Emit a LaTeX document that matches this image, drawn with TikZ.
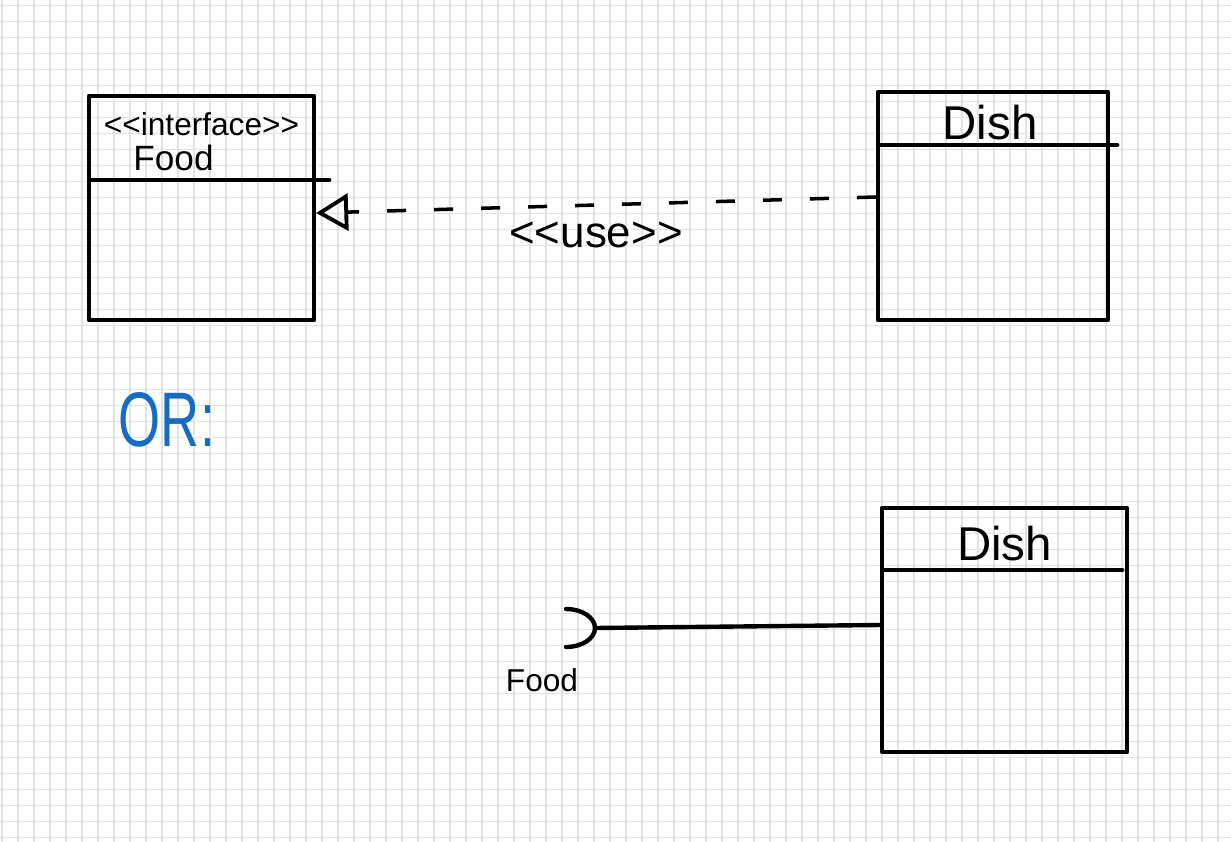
\documentclass[tikz,border=0pt]{standalone}
\usepackage{fontspec}
\setmainfont{Liberation Sans}
\usetikzlibrary{arrows.meta,positioning}
\definecolor{gridgray}{RGB}{226,226,226}
\definecolor{orblue}{RGB}{22,108,196}

\begin{document}
\begin{tikzpicture}[
  x=0.02cm, y=-0.02cm,
  every node/.style={inner sep=0pt},
  umlbox/.style={draw, line width=2.5pt, line join=round},
  rule/.style={line width=2.5pt, line cap=round},
  gridline/.style={gridgray, line width=1pt},
  hand/.style={font=\fontsize{#1}{#1}\selectfont}
]
\useasboundingbox (0,0) rectangle (1231,842);
\fill[white] (0,0) rectangle (1231,842);

% squared paper
\foreach \gx in {0,...,76}
  \draw[gridline] ({1.7+16*\gx},0) -- ({1.7+16*\gx},842);
\foreach \gy in {0,...,52}
  \draw[gridline] (0,{5.5+16*\gy}) -- (1231,{5.5+16*\gy});

% class boxes
\node[umlbox, minimum width=4.5cm, minimum height=4.48cm] (food) at (201.5,208) {};
\node[umlbox, minimum width=4.6cm, minimum height=4.56cm] (dish) at (993,206) {};
\node[umlbox, minimum width=4.9cm, minimum height=4.88cm] (dishb) at (1004.5,630) {};

% compartment rules
\draw[rule] ([xshift=0.05cm,yshift=-1.72cm]food.north west) -- ([xshift=0.26cm,yshift=-1.72cm]food.north east);
\draw[rule] ([xshift=0.05cm,yshift=-1.1cm]dish.north west) -- ([xshift=0.14cm,yshift=-1.1cm]dish.north east);
\draw[rule] ([xshift=0.05cm,yshift=-1.28cm]dishb.north west) -- ([xshift=-0.14cm,yshift=-1.28cm]dishb.north east);

% class names
\node[hand=18] (foodst) at ([yshift=-0.6cm]food.north) {<\kern0pt<interface>\kern0pt>};
\node[hand=20] (foodnm) at ([xshift=-0.56cm,yshift=-1.28cm]food.north) {Food};
\node[hand=27] (dishnm) at ([xshift=-0.06cm,yshift=-0.66cm]dish.north) {Dish};
\node[hand=27] (dishbnm) at ([yshift=-0.76cm]dishb.north) {Dish};

% realization
\draw[line width=2pt, dash pattern=on 0.38cm off 0.56cm,
      -{Triangle[open, length=0.64cm, width=0.74cm, line width=2.2pt]}]
  ([yshift=0.18cm]dish.west) -- ([yshift=-0.1cm]food.east)
  node[midway, below=0.3cm, hand=25] (uselbl) {<\kern0pt<use>\kern0pt>};

\node[hand=44, text=orblue] (orlbl) at (167,420) {\scalebox{0.7}[1]{OR:}};

% required interface (socket)
\coordinate (sock) at (595,628);
\draw[rule] ([xshift=-0.58cm,yshift=0.38cm]sock)
  arc[start angle=90, end angle=-90, x radius=0.58cm, y radius=0.38cm];
\draw[rule] (sock) -- ([yshift=0.1cm]dishb.west);
\node[hand=18] (foodlbl) at (542,680) {Food};
\end{tikzpicture}
\end{document}
